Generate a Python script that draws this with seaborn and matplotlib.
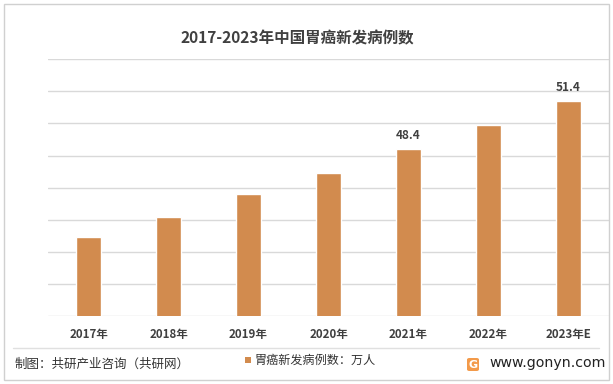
import matplotlib
matplotlib.use("Agg")
import matplotlib.pyplot as plt
from matplotlib.patches import Rectangle, FancyBboxPatch
from matplotlib.lines import Line2D
import pandas as pd
import seaborn as sns

years = ["2017年", "2018年", "2019年", "2020年", "2021年", "2022年", "2023年E"]
cases = [42.9, 44.2, 45.6, 46.9, 48.4, 49.9, 51.4]
shown_labels = {"2021年": "48.4", "2023年E": "51.4"}
title = "2017-2023年中国胃癌新发病例数"
legend_label = "胃癌新发病例数：万人"
source = "制图：共研产业咨询（共研网）"
site = "www.gonyn.com"

bar_color = "#D28B4E"
text_color = "#404040"

sns.set_theme(style="white")
plt.rcParams["font.family"] = ["Noto Sans CJK SC", "DejaVu Sans"]

df = pd.DataFrame({"year": years, "cases": cases})

fig = plt.figure(figsize=(6.13, 3.84), dpi=100)
ax = fig.add_axes([0.0791, 0.1771, 0.9136, 0.6685])

sns.barplot(data=df, x="year", y="cases", color=bar_color, width=0.31,
            saturation=1, ax=ax, zorder=3)
ax.set_ylim(38, 54)
ax.set_yticks(range(38, 55, 2))
ax.set_yticklabels([])
ax.set_xlim(-0.5, len(years) - 0.5)
ax.grid(axis="y", color="#d9d9d9", linewidth=1, zorder=0)
ax.set_axisbelow(True)
for s in ax.spines.values():
    s.set_visible(False)
ax.set_xlabel("")
ax.set_ylabel("")
ax.tick_params(axis="both", length=0)
ax.tick_params(axis="x", pad=9, labelsize=8.3, labelcolor=text_color)
for lab in ax.get_xticklabels():
    lab.set_fontweight("bold")

for i, (yr, val) in enumerate(zip(years, cases)):
    if yr in shown_labels:
        ax.annotate(shown_labels[yr], (i, val), xytext=(0, 10), textcoords="offset points",
                    ha="center", va="center", fontsize=8.5, fontweight="bold", color=text_color)

fig.text(297 / 613, 1 - 38.3 / 384, title, ha="center", va="center",
         fontsize=11.2, fontweight="bold", color=text_color)

# frame and footer separator
fig.add_artist(Rectangle((4 / 613, 4 / 384), 605 / 613, 376 / 384, transform=fig.transFigure,
                         fill=False, edgecolor="#d0d0d0", linewidth=1))
fig.add_artist(Line2D([13 / 613, 599 / 613], [1 - 348 / 384] * 2, transform=fig.transFigure,
                      color="#e0e0e0", linewidth=1))

fig.text(15 / 613, 1 - 364 / 384, source, ha="left", va="center", fontsize=9, color="#333333")
fig.add_artist(Rectangle((245 / 613, 1 - 363 / 384), 6 / 613, 6 / 384, transform=fig.transFigure,
                         facecolor=bar_color, edgecolor="none"))
fig.text(254 / 613, 1 - 360.7 / 384, legend_label, ha="left", va="center", fontsize=8.7, color="#333333")

fig.add_artist(FancyBboxPatch((467 / 613, 1 - 371 / 384), 12 / 613, 13 / 384,
                              boxstyle="round,pad=0,rounding_size=0.004", transform=fig.transFigure,
                              facecolor="#F39A4A", edgecolor="none"))
fig.text(473 / 613, 1 - 364.5 / 384, "G", ha="center", va="center", fontsize=8,
         fontweight="bold", color="white", family="DejaVu Sans")
fig.text(489 / 613, 1 - 363 / 384, site, ha="left", va="center", fontsize=10.2,
         color="#222222", family="DejaVu Sans")

fig.savefig("out.png", dpi=100)
